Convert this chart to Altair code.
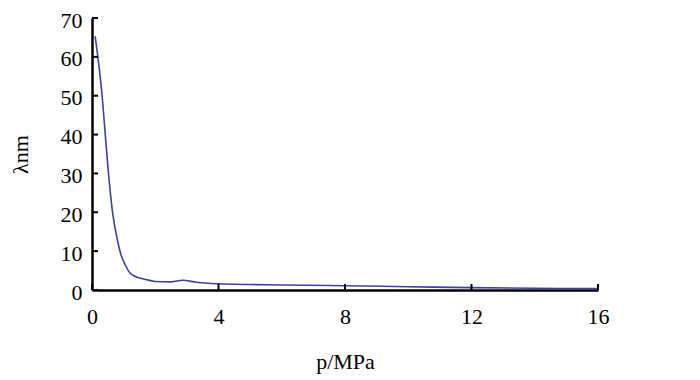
import altair as alt
import pandas as pd

# Curve
p_values = [0.1, 0.2, 0.32, 0.41, 0.51, 0.65, 0.8, 0.92, 1.05, 1.18, 1.34, 1.55, 1.75, 2.0,
            2.5, 2.87, 3.3, 4.0, 5.0, 6.0, 8.0, 10.0, 12.0, 14.0, 16.0]
lam_values = [65.3, 59, 50, 41, 31, 20, 13, 9, 6.5, 4.6, 3.6, 3.0, 2.6, 2.2,
              2.1, 2.5, 2.0, 1.6, 1.4, 1.3, 1.1, 0.85, 0.6, 0.45, 0.35]

x_ticks = [0, 4, 8, 12, 16]
y_ticks = [0, 10, 20, 30, 40, 50, 60, 70]

W, H = 506, 272
FONT = "Liberation Serif"

curve = pd.DataFrame({"p": p_values, "lam": lam_values})
xt = pd.DataFrame({"p": x_ticks})
yt = pd.DataFrame({"lam": y_ticks})

xscale = alt.Scale(domain=[0, 16], nice=False, zero=False)
yscale = alt.Scale(domain=[0, 70], nice=False)

xaxis = alt.Axis(title="p/MPa", values=x_ticks, grid=False, ticks=False,
                 domainColor="black", domainWidth=2.5, labelPadding=16,
                 labelFlush=False, labelOverlap=False,
                 labelFont=FONT, labelFontSize=22, labelColor="black",
                 titleFont=FONT, titleFontSize=22, titleFontWeight="normal",
                 titleColor="black", titlePadding=24)
yaxis = alt.Axis(title="λnm", values=y_ticks, grid=False, ticks=False,
                 domainColor="black", domainWidth=2.5, labelPadding=10,
                 labelOffset=2, labelFlush=False, labelOverlap=False,
                 labelFont=FONT, labelFontSize=22, labelColor="black",
                 titleFont=FONT, titleFontSize=22, titleFontWeight="normal",
                 titleColor="black", titlePadding=28)

line = alt.Chart(curve).mark_line(color="#3d42a0", strokeWidth=1.6, interpolate="monotone").encode(
    x=alt.X("p:Q", scale=xscale, axis=xaxis),
    y=alt.Y("lam:Q", scale=yscale, axis=yaxis),
)

ytick_marks = alt.Chart(yt).mark_rule(color="black", strokeWidth=2).encode(
    y=alt.Y("lam:Q", scale=yscale, axis=yaxis),
    x=alt.value(0),
    x2=alt.value(6),
)

xtick_marks = alt.Chart(xt).mark_rule(color="black", strokeWidth=2).encode(
    x=alt.X("p:Q", scale=xscale, axis=xaxis),
    y=alt.value(H - 6),
    y2=alt.value(H),
)

chart = alt.layer(line, ytick_marks, xtick_marks).properties(
    width=W, height=H,
    background="white",
    autosize=alt.AutoSizeParams(type="none"),
    padding={"left": 84, "top": 10, "right": 90, "bottom": 90},
).configure_view(strokeWidth=0)

chart.save("out.html", embed_options={"renderer": "svg", "actions": False})
